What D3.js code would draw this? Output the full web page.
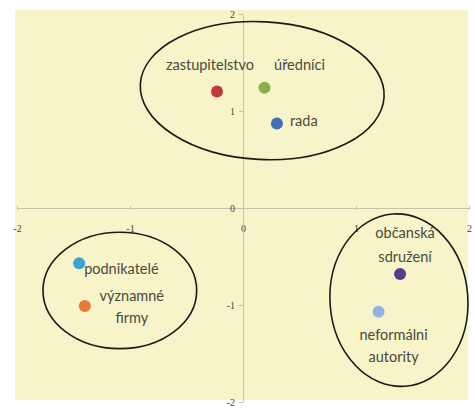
<!DOCTYPE html>
<html><head><meta charset="utf-8">
<script src="https://cdn.jsdelivr.net/npm/d3@7/dist/d3.min.js"></script>
<style>html,body{margin:0;padding:0;background:#fff;}svg{display:block;}</style>
</head><body>
<svg id="chart" width="475" height="410"></svg>
<script>
// ---- data ----
const actors = ["zastupitelstvo", "úředníci", "rada", "podnikatelé", "významné firmy", "občanská sdružení", "neformálni autority"];
const labelLines = [["zastupitelstvo"], ["úředníci"], ["rada"], ["podnikatelé"], ["významné", "firmy"], ["občanská", "sdružení"], ["neformálni", "autority"]];
const xValues = [-0.23, 0.19, 0.30, -1.45, -1.40, 1.39, 1.20];
const yValues = [1.20, 1.24, 0.87, -0.57, -1.01, -0.68, -1.07];
const tickValues = [-2, -1, 0, 1, 2];
// group ellipses in data units: centre x, centre y, radius x, radius y
const groupCx = [0.17, -1.09, 1.38];
const groupCy = [1.21, -0.85, -0.95];
const groupRx = [1.08, 0.68, 0.61];
const groupRy = [0.71, 0.60, 0.89];

// ---- styles/layout ----
const colors = ["#c0393b", "#8bb04a", "#3d70b8", "#3ba3d2", "#e37b3b", "#5a3a8c", "#8db4e2"];
const labelLayout = [
  {dx: -7, dy: [-27], anchor: "middle"},
  {dx: 35, dy: [-23], anchor: "middle"},
  {dx: 13, dy: [-3], anchor: "start"},
  {dx: 5, dy: [6], anchor: "start"},
  {dx: 47, dy: [-10, 12], anchor: "middle"},
  {dx: 5, dy: [-41, -17], anchor: "middle"},
  {dx: 15, dy: [23, 45], anchor: "middle"}
];
const groupRotate = [3, 0, -4];

const svg = d3.select("#chart");
const x = d3.scaleLinear().domain([-2, 2]).range([17, 469]);
const y = d3.scaleLinear().domain([-2, 2]).range([402, 14]);

// plot background
svg.append("rect").attr("x", 15).attr("y", 10).attr("width", 453).attr("height", 390).attr("fill", "#f6f4c8");

// axes
const axisColor = "#c4c3a6";
const xAxis = svg.append("g").attr("transform", `translate(0,${y(0)})`)
  .call(d3.axisBottom(x).tickValues(tickValues).tickFormat(d3.format("d")).tickSizeInner(4).tickSizeOuter(0));
xAxis.select(".domain").attr("stroke", axisColor);
xAxis.selectAll(".tick line").attr("stroke", axisColor).attr("y1", -2).attr("y2", 2);
xAxis.selectAll(".tick text").attr("y", 17).attr("fill", "#444").attr("font-size", 10).attr("font-family", "Liberation Serif, serif").text(d => d < 0 ? "-" + Math.abs(d) : d);

const yAxis = svg.append("g").attr("transform", `translate(${x(0)},0)`)
  .call(d3.axisLeft(y).tickValues(tickValues).tickFormat(d3.format("d")).tickSizeInner(4).tickSizeOuter(0));
yAxis.select(".domain").attr("stroke", axisColor);
yAxis.selectAll(".tick line").attr("stroke", axisColor);
yAxis.selectAll(".tick text").attr("x", -8).attr("fill", "#444").attr("font-size", 10).attr("font-family", "Liberation Serif, serif").text(d => d < 0 ? "-" + Math.abs(d) : d);

// group ellipses
svg.append("g").selectAll("ellipse").data(groupCx).join("ellipse")
  .attr("cx", (d, i) => x(groupCx[i]))
  .attr("cy", (d, i) => y(groupCy[i]))
  .attr("rx", (d, i) => x(groupRx[i]) - x(0))
  .attr("ry", (d, i) => y(0) - y(groupRy[i]))
  .attr("transform", (d, i) => `rotate(${groupRotate[i]},${x(groupCx[i])},${y(groupCy[i])})`)
  .attr("fill", "none").attr("stroke", "#1a1a1a").attr("stroke-width", 1.6);

// points
svg.append("g").selectAll("circle").data(actors).join("circle")
  .attr("cx", (d, i) => x(xValues[i]))
  .attr("cy", (d, i) => y(yValues[i]))
  .attr("r", 6)
  .attr("fill", (d, i) => colors[i]);

// labels
const lg = svg.append("g").attr("font-family", "Lato, sans-serif").attr("font-size", 14.5).attr("fill", "#4a4a40");
actors.forEach((a, i) => {
  const L = labelLayout[i];
  labelLines[i].forEach((line, j) => {
    lg.append("text")
      .attr("x", x(xValues[i]) + L.dx)
      .attr("y", y(yValues[i]) + L.dy[j])
      .attr("dy", "0.35em")
      .attr("text-anchor", L.anchor)
      .text(line);
  });
});
</script>
</body></html>
